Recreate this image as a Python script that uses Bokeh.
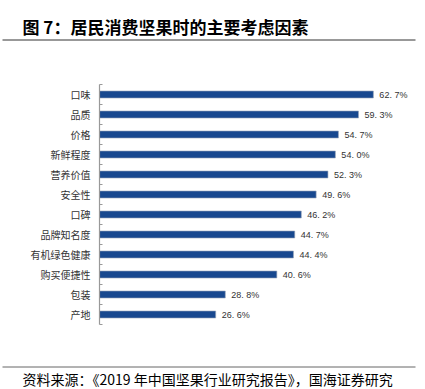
from bokeh.plotting import figure
from bokeh.models import Range1d, FixedTicker, ColumnDataSource
from bokeh.core.properties import value
from bokeh.embed import file_html
from bokeh.resources import INLINE

title_text = "图 7：居民消费坚果时的主要考虑因素"
source_text = "资料来源：《2019 年中国坚果行业研究报告》，国海证券研究"
categories = ["口味", "品质", "价格", "新鲜程度", "营养价值", "安全性", "口碑",
              "品牌知名度", "有机绿色健康", "购买便捷性", "包装", "产地"]
values = [62.7, 59.3, 54.7, 54.0, 52.3, 49.6, 46.2, 44.7, 44.4, 40.6, 28.8, 26.6]

n = len(categories)
ys = [n - i - 0.5 for i in range(n)]
labels = [f"{v:.1f}%".replace(".", ". ") for v in values]

W = 420


def strip(height):
    f = figure(width=W, height=height, output_backend="svg", toolbar_location=None,
               x_range=Range1d(0, W), y_range=Range1d(height, 0), tools="",
               min_border=0, min_border_left=0, min_border_right=0,
               min_border_top=0, min_border_bottom=0)
    f.outline_line_color = None
    f.grid.visible = False
    f.axis.visible = False
    return f


# top strip: title + rule
top = strip(46)
top.text(x=[22], y=[26], text=[title_text], text_font=value("Noto Sans CJK SC"),
         text_font_size="17px", text_font_style="bold", text_baseline="middle",
         text_color="#000000")
top.segment(x0=[2], y0=[39.5], x1=[415], y1=[39.5], line_color="#333333", line_width=1)

# main chart
H = 310
ML, MR, MT, MB = 99, W - 415, 38, 32
frame_w = W - ML - MR
px_per_unit = 4.368

p = figure(width=W, height=H, output_backend="svg", toolbar_location=None,
           x_range=Range1d(0, frame_w / px_per_unit), y_range=Range1d(0, n),
           min_border_left=ML, min_border_right=MR, min_border_top=MT, min_border_bottom=MB,
           tools="")
p.outline_line_color = None
p.grid.visible = False
p.xaxis.visible = False

src = ColumnDataSource(dict(y=ys, v=values, lab=labels))
p.hbar(y="y", right="v", left=0, height=0.35, source=src,
       fill_color="#18488F", line_color="#9aa6b8", line_width=0.6)
p.text(x="v", y="y", text="lab", source=src, x_offset=6,
       text_baseline="middle", text_align="left",
       text_font=value("Liberation Sans"), text_font_size="9px", text_color="#333333")

ya = p.yaxis[0]
ya.ticker = FixedTicker(ticks=ys, minor_ticks=list(range(n + 1)))
ya.major_label_overrides = {y: c for y, c in zip(ys, categories)}
ya.major_tick_in = 0
ya.major_tick_out = 0
ya.minor_tick_in = 3
ya.minor_tick_out = 0
ya.minor_tick_line_color = "#999999"
ya.axis_line_color = "#999999"
ya.axis_line_width = 1.2
ya.major_label_standoff = 9
ya.major_label_text_font = "Noto Sans CJK SC"
ya.major_label_text_font_size = "10px"
ya.major_label_text_color = "#333333"

# bottom strip: rule + source
bot = strip(33)
bot.segment(x0=[2], y0=[10.5], x1=[415], y1=[10.5], line_color="#666666", line_width=1)
bot.text(x=[22], y=[22.5], text=[source_text], text_font=value("Noto Sans CJK SC"),
         text_font_size="14px", text_baseline="middle", text_color="#000000")

open("out.html", "w").write(file_html([top, p, bot], INLINE))
